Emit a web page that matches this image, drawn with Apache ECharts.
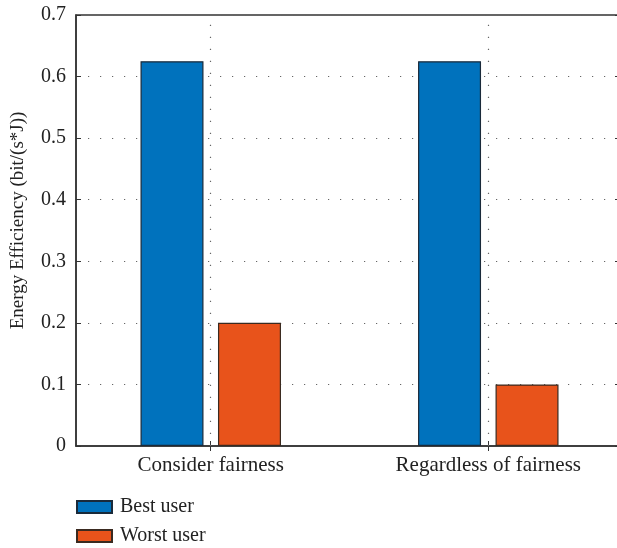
<!DOCTYPE html>
<html>
<head>
<meta charset="utf-8">
<script src="https://cdn.jsdelivr.net/npm/echarts@6/dist/echarts.min.js"></script>
<style>
  html, body { margin: 0; padding: 0; background: #fff; }
  #chart { width: 617px; height: 548px; }
</style>
</head>
<body>
<div id="chart"></div>
<script>
// Energy efficiency of the best and worst user, with and without fairness
const categories = ['Consider fairness', 'Regardless of fairness'];
const bestUser = [0.625, 0.625];
const worstUser = [0.2, 0.1];
const yTicks = [0, 0.1, 0.2, 0.3, 0.4, 0.5, 0.6, 0.7];

// groups sit at x = 1, 2 on a numeric x axis
const groupPos = categories.map((c, i) => i + 1);
const pairs = vals => vals.map((v, i) => [groupPos[i], v]);

const FONT = "'Liberation Serif', 'Times New Roman', serif";
const dotted = { color: '#666', width: 1.2, type: [1.2, 10.8] };
const X_MIN = 0.5145, X_MAX = 2.4746;

const chart = echarts.init(document.getElementById('chart'), null, { renderer: 'canvas' });

chart.setOption({
  animation: false,
  backgroundColor: '#fff',
  textStyle: { fontFamily: FONT },
  grid: {
    left: 76, right: -3, top: 15, bottom: 102,
    outerBoundsMode: 'none',
    containLabel: false,
    show: true, borderColor: '#333', borderWidth: 1.5, backgroundColor: 'transparent'
  },
  legend: {
    orient: 'vertical',
    left: 76, top: 497, height: 80,
    padding: 0,
    itemWidth: 35, itemHeight: 12, itemGap: 9,
    icon: 'rect',
    textStyle: { fontFamily: FONT, fontSize: 20, color: '#222', padding: [0, 0, 0, 3] },
    data: ['Best user', 'Worst user']
  },
  xAxis: [
    {
      type: 'value',
      min: X_MIN, max: X_MAX,
      axisLine: { show: true, onZero: false, lineStyle: { color: '#333', width: 1.5 } },
      axisTick: { show: true, inside: true, length: 5, customValues: groupPos, lineStyle: { color: '#333' } },
      axisLabel: {
        fontFamily: FONT, fontSize: 21, color: '#222', margin: 9,
        customValues: groupPos,
        formatter: v => categories[Math.round(v) - 1] || ''
      },
      splitLine: { show: false }
    },
    {
      type: 'value',
      position: 'top',
      min: X_MIN, max: X_MAX,
      axisLine: { show: false },
      axisTick: { show: true, inside: true, length: 5, customValues: groupPos, lineStyle: { color: '#333' } },
      axisLabel: { show: false },
      splitLine: { show: false }
    }
  ],
  yAxis: [
    {
      type: 'value',
      min: 0, max: 0.7, interval: 0.1,
      name: 'Energy Efficiency (bit/(s*J))',
      nameLocation: 'middle',
      nameGap: 48,
      nameRotate: 90,
      nameTextStyle: { fontFamily: FONT, fontSize: 19, color: '#222', padding: [0, 0, 0, 20] },
      axisLine: { show: true, lineStyle: { color: '#333', width: 1.5 } },
      axisTick: { show: true, inside: true, length: 5, lineStyle: { color: '#333' } },
      axisLabel: {
        fontFamily: FONT, fontSize: 20, color: '#222', margin: 10,
        formatter: v => {
          const t = yTicks.find(x => Math.abs(x - v) < 1e-9);
          return t === undefined ? '' : String(t);
        }
      },
      splitLine: { show: true, lineStyle: dotted }
    },
    {
      type: 'value',
      position: 'right',
      min: 0, max: 0.7, interval: 0.1,
      axisLine: { show: false },
      axisTick: { show: true, inside: true, length: 5, lineStyle: { color: '#333' } },
      axisLabel: { show: false },
      splitLine: { show: false }
    }
  ],
  series: [
    {
      name: 'Best user',
      type: 'bar',
      data: pairs(bestUser),
      barWidth: 63,
      barGap: '23%',
      itemStyle: { color: '#0072BD', borderColor: '#1a2a3a', borderWidth: 1.2 }
    },
    {
      name: 'Worst user',
      type: 'bar',
      data: pairs(worstUser),
      barWidth: 63,
      itemStyle: { color: '#E8531B', borderColor: '#3a2a20', borderWidth: 1.2 }
    },
    {
      // vertical dotted guides through each group centre
      name: 'guides',
      type: 'line',
      data: [],
      silent: true,
      markLine: {
        silent: true,
        symbol: 'none',
        label: { show: false },
        lineStyle: dotted,
        data: groupPos.map(x => ({ xAxis: x }))
      }
    }
  ]
});
</script>
</body>
</html>
